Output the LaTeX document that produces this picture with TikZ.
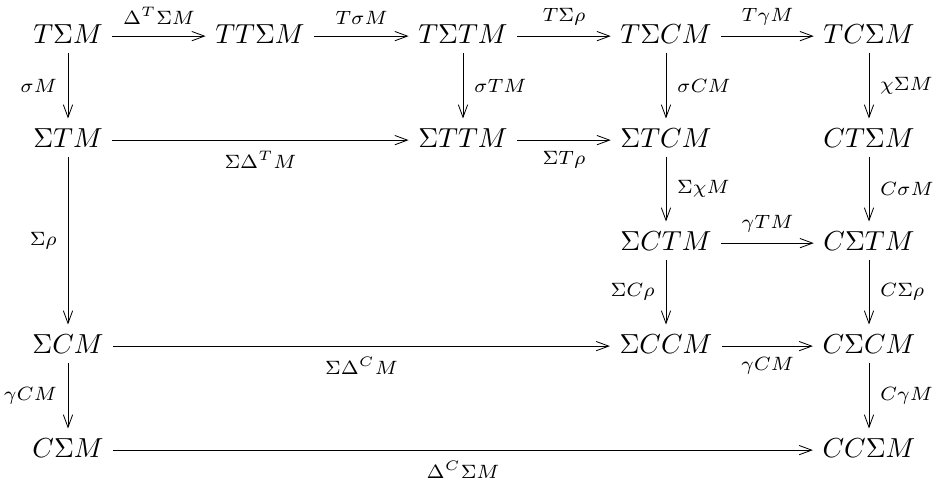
\documentclass[tikz,border=0pt]{standalone}
\usetikzlibrary{arrows.meta}
\begin{document}
\begin{tikzpicture}[x={(0.36364pt,0)},y={(0,-0.36364pt)},
  obj/.style={anchor=base,inner sep=3.333pt},
  ar/.style={draw,line width=0.3pt,-{Straight Barb[length=4.6pt,width=3.4pt]}},
  lab/.style={inner sep=3.9pt,font=\scriptsize}]
\useasboundingbox (0,0) rectangle (933,480);
% row 1
\node[obj] (a1) at (68,43) {$T\Sigma M$};
\node[obj] (a2) at (260,43) {$TT\Sigma M$};
\node[obj] (a3) at (463,43) {$T\Sigma TM$};
\node[obj] (a4) at (666,43) {$T\Sigma CM$};
\node[obj] (a5) at (869,43) {$TC\Sigma M$};
% row 2
\node[obj] (b1) at (68,147) {$\Sigma TM$};
\node[obj] (b3) at (463,147) {$\Sigma TTM$};
\node[obj] (b4) at (666,147) {$\Sigma TCM$};
\node[obj] (b5) at (869,147) {$CT\Sigma M$};
% row 3
\node[obj] (c4) at (666,250) {$\Sigma CTM$};
\node[obj] (c5) at (869,250) {$C\Sigma TM$};
% row 4
\node[obj] (d1) at (68,353) {$\Sigma CM$};
\node[obj] (d4) at (666,353) {$\Sigma CCM$};
\node[obj] (d5) at (869,353) {$C\Sigma CM$};
% row 5
\node[obj] (e1) at (68,457) {$C\Sigma M$};
\node[obj] (e5) at (869,457) {$CC\Sigma M$};
% horizontal arrows
\draw[ar] ([yshift=2.5pt]a1.base east) -- ([yshift=2.5pt]a2.base west) node[midway,above,lab]{$\Delta^T\Sigma M$};
\draw[ar] ([yshift=2.5pt]a2.base east) -- ([yshift=2.5pt]a3.base west) node[midway,above,lab]{$T\sigma M$};
\draw[ar] ([yshift=2.5pt]a3.base east) -- ([yshift=2.5pt]a4.base west) node[midway,above,lab]{$T\Sigma\rho$};
\draw[ar] ([yshift=2.5pt]a4.base east) -- ([yshift=2.5pt]a5.base west) node[midway,above,lab]{$T\gamma M$};
\draw[ar] ([yshift=2.5pt]b1.base east) -- ([yshift=2.5pt]b3.base west) node[midway,below,lab]{$\Sigma\Delta^T M$};
\draw[ar] ([yshift=2.5pt]b3.base east) -- ([yshift=2.5pt]b4.base west) node[midway,below,lab]{$\Sigma T\rho$};
\draw[ar] ([yshift=2.5pt]c4.base east) -- ([yshift=2.5pt]c5.base west) node[midway,above,lab]{$\gamma TM$};
\draw[ar] ([yshift=2.5pt]d1.base east) -- ([yshift=2.5pt]d4.base west) node[midway,below,lab]{$\Sigma\Delta^C M$};
\draw[ar] ([yshift=2.5pt]d4.base east) -- ([yshift=2.5pt]d5.base west) node[midway,below,lab]{$\gamma CM$};
\draw[ar] ([yshift=2.5pt]e1.base east) -- ([yshift=2.5pt]e5.base west) node[midway,below,lab]{$\Delta^C\Sigma M$};
% vertical arrows
\draw[ar] (a1.south) -- (b1.north) node[midway,left,lab]{$\sigma M$};
\draw[ar] (a3.south) -- (b3.north) node[midway,right,lab]{$\sigma TM$};
\draw[ar] (a4.south) -- (b4.north) node[midway,right,lab]{$\sigma CM$};
\draw[ar] (a5.south) -- (b5.north) node[midway,right,lab]{$\chi\Sigma M$};
\draw[ar] (b1.south) -- (d1.north) node[midway,left,lab]{$\Sigma\rho$};
\draw[ar] (b4.south) -- (c4.north) node[midway,right,lab]{$\Sigma\chi M$};
\draw[ar] (b5.south) -- (c5.north) node[midway,right,lab]{$C\sigma M$};
\draw[ar] (c4.south) -- (d4.north) node[midway,left,lab]{$\Sigma C\rho$};
\draw[ar] (c5.south) -- (d5.north) node[midway,right,lab]{$C\Sigma\rho$};
\draw[ar] (d1.south) -- (e1.north) node[midway,left,lab]{$\gamma CM$};
\draw[ar] (d5.south) -- (e5.north) node[midway,right,lab]{$C\gamma M$};
\end{tikzpicture}
\end{document}
